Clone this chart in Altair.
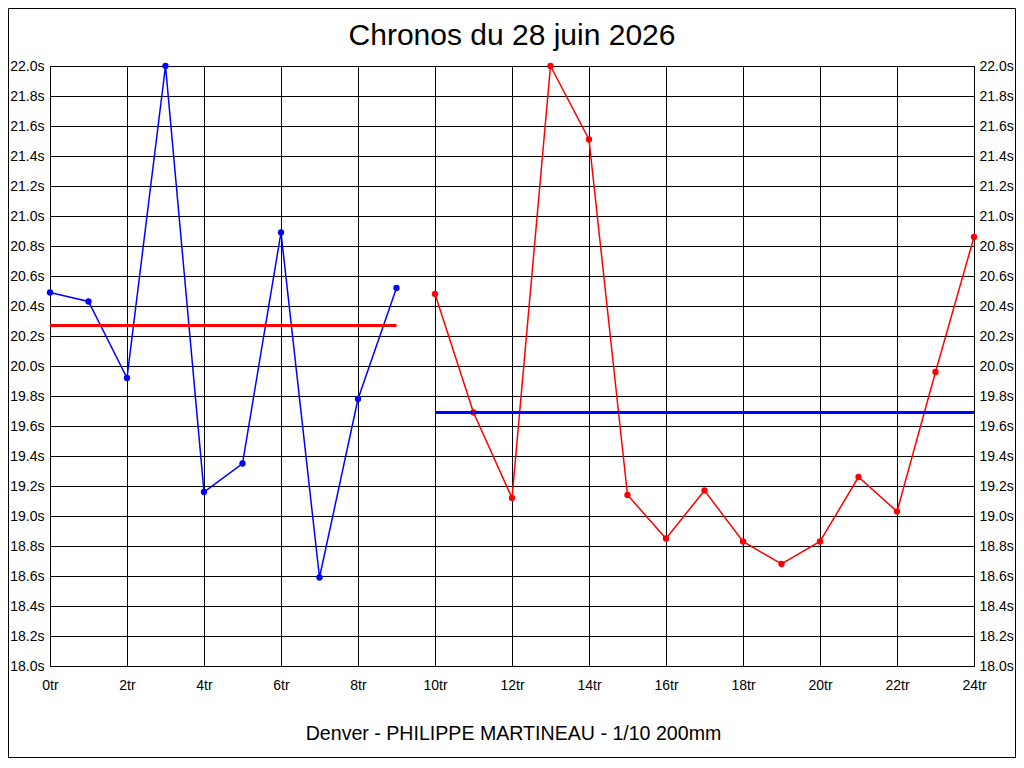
import altair as alt
import pandas as pd

TITLE = "Chronos du 28 juin 2026"
SUBTITLE = "Denver - PHILIPPE MARTINEAU - 1/10 200mm"

laps_blue = [0, 1, 2, 3, 4, 5, 6, 7, 8, 9]
times_blue = [20.49, 20.43, 19.92, 22.00, 19.16, 19.35, 20.89, 18.59, 19.78, 20.52]

laps_red = [10, 11, 12, 13, 14, 15, 16, 17, 18, 19, 20, 21, 22, 23, 24]
times_red = [20.48, 19.69, 19.12, 22.00, 21.51, 19.14, 18.85, 19.17, 18.83,
             18.68, 18.83, 19.26, 19.03, 19.96, 20.86]

# mean lines: [start lap, end lap, value, colour group]
mean_start = [0, 10]
mean_end = [9, 24]
mean_value = [20.27, 19.69]
mean_group = ["rouge", "bleu"]

x_ticks = [0, 2, 4, 6, 8, 10, 12, 14, 16, 18, 20, 22, 24]
y_ticks = [18.0, 18.2, 18.4, 18.6, 18.8, 19.0, 19.2, 19.4, 19.6, 19.8, 20.0,
           20.2, 20.4, 20.6, 20.8, 21.0, 21.2, 21.4, 21.6, 21.8, 22.0]

series = pd.DataFrame({
    "tour": laps_blue + laps_red,
    "temps": times_blue + times_red,
    "serie": ["bleu"] * len(laps_blue) + ["rouge"] * len(laps_red),
})
means = pd.DataFrame({"debut": mean_start, "fin": mean_end,
                      "moyenne": mean_value, "serie": mean_group})
texts = pd.DataFrame({"titre": [TITLE], "sous": [SUBTITLE]})

FONT = "Liberation Sans"
color = alt.Color("serie:N", scale=alt.Scale(domain=["bleu", "rouge"],
                                             range=["#0000FF", "#FF0000"]),
                  legend=None)

xaxis = alt.Axis(values=x_ticks, labelExpr="datum.value + 'tr'", grid=True,
                 gridColor="black", gridWidth=1, gridOpacity=1, ticks=False,
                 domain=False, labelFlush=False, labelOverlap=False,
                 labelPadding=12, labelFontSize=14, labelFont=FONT,
                 labelColor="black", title=None)
xscale = alt.Scale(domain=[0, 24], nice=False, zero=False)
yscale = alt.Scale(domain=[18, 22], nice=False, zero=False)


def X(field="tour"):
    return alt.X(f"{field}:Q", scale=xscale, axis=xaxis)


yleft = alt.Axis(values=y_ticks, labelExpr="format(datum.value, '.1f') + 's'",
                 grid=True, gridColor="black", gridWidth=1, gridOpacity=1,
                 ticks=False, domain=False, labelFlush=False, labelOverlap=False,
                 labelPadding=6, labelFontSize=14, labelFont=FONT,
                 labelColor="black", title=None, orient="left")
yright = alt.Axis(values=y_ticks, labelExpr="format(datum.value, '.1f') + 's'",
                  grid=False, ticks=False, domain=False, labelFlush=False,
                  labelOverlap=False, labelPadding=5, labelFontSize=14,
                  labelFont=FONT, labelColor="black", title=None, orient="right")

lines = alt.Chart(series).mark_line(strokeWidth=1.5).encode(
    x=X(), y=alt.Y("temps:Q", scale=yscale, axis=yleft), color=color,
    detail="serie:N")

points = alt.Chart(series).mark_circle(size=40, opacity=1).encode(
    x=X(), y=alt.Y("temps:Q", scale=yscale, axis=None), color=color)

rules = alt.Chart(means).mark_rule(strokeWidth=3).encode(
    x=X("debut"), x2="fin:Q",
    y=alt.Y("moyenne:Q", scale=yscale, axis=yright),
    color=alt.Color("serie:N", scale=alt.Scale(domain=["bleu", "rouge"],
                                               range=["#0000FF", "#FF0000"]),
                    legend=None))

title = alt.Chart(texts).mark_text(fontSize=30, font=FONT, color="black",
                                   align="center", baseline="alphabetic").encode(
    text="titre:N", x=alt.value(462), y=alt.value(-21))

subtitle = alt.Chart(texts).mark_text(fontSize=19.6, font=FONT, color="black",
                                      align="center", baseline="alphabetic").encode(
    text="sous:N", x=alt.value(463.5), y=alt.value(674))

frame = alt.Chart(texts).mark_rect(fillOpacity=0, stroke="black",
                                   strokeWidth=1).encode(
    x=alt.value(-41.5), x2=alt.value(965.5), y=alt.value(-57.5),
    y2=alt.value(691.5))

chart = alt.layer(lines, points, rules, title, subtitle, frame).resolve_scale(
    y="independent", color="independent"
).properties(
    width=924, height=600,
    autosize=alt.AutoSizeParams(type="none"),
    padding={"left": 42, "top": 58, "right": 42, "bottom": 92},
    background="white",
).configure_view(stroke="black", strokeWidth=1, fill="white")

chart.save("out.html", embed_options={"renderer": "svg", "actions": False})
